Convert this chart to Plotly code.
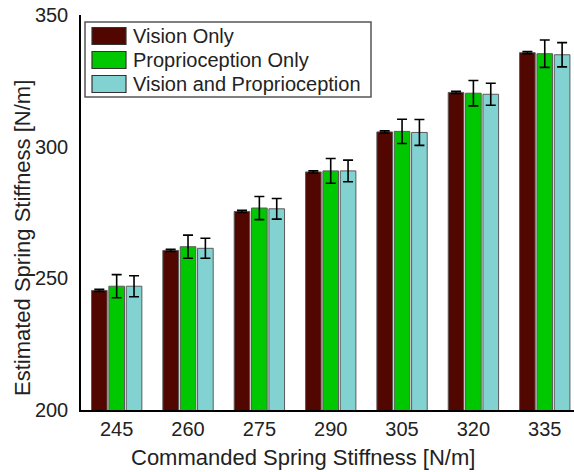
import plotly.graph_objects as go

# Commanded stiffness levels (x categories) and estimated stiffness per condition
commanded = ["245", "260", "275", "290", "305", "320", "335"]

vision_only = [245.4, 260.6, 275.4, 290.4, 305.6, 320.6, 335.7]
vision_only_err = [0.4, 0.4, 0.4, 0.4, 0.4, 0.4, 0.4]

proprio_only = [247.0, 262.0, 276.7, 290.8, 305.8, 320.3, 335.3]
proprio_only_err = [4.4, 4.4, 4.4, 4.7, 4.6, 4.8, 5.2]

vision_proprio = [247.0, 261.4, 276.4, 290.8, 305.4, 319.9, 334.9]
vision_proprio_err = [4.0, 3.8, 3.9, 4.1, 4.9, 4.2, 4.6]

series_names = ["Vision Only", "Proprioception Only", "Vision and Proprioception"]
series_colors = ["#520600", "#00c800", "#82d2d2"]

W, H = 574, 472
ML, MR, MT, MB = 81, 0, 15, 62
PW, PH = W - ML - MR, H - MT - MB

FONT = "Liberation Sans, Arial, sans-serif"
TXT = "#222222"

fig = go.Figure()
for name, vals, errs, col in zip(
    series_names,
    [vision_only, proprio_only, vision_proprio],
    [vision_only_err, proprio_only_err, vision_proprio_err],
    series_colors,
):
    fig.add_trace(go.Bar(
        x=commanded, y=vals, name=name,
        marker=dict(color=col, line=dict(color="#5a5a5a", width=1)),
        error_y=dict(type="data", array=errs, color="black", thickness=1.6, width=5),
        showlegend=False,
    ))


def px_x(p):
    return (p - ML) / PW


def px_y(p):
    return (H - MB - p) / PH


shapes = []
annotations = []

# Legend box with large colour swatches
shapes.append(dict(type="rect", xref="paper", yref="paper",
                   x0=px_x(85), x1=px_x(371), y0=px_y(97), y1=px_y(22),
                   line=dict(color="#555555", width=1.5), fillcolor="white", layer="above"))
row_centers = [36, 60, 84]
for name, col, cy in zip(series_names, series_colors, row_centers):
    shapes.append(dict(type="rect", xref="paper", yref="paper",
                       x0=px_x(92), x1=px_x(126), y0=px_y(cy + 8.5), y1=px_y(cy - 8.5),
                       line=dict(color="#333333", width=1.2), fillcolor=col, layer="above"))
    annotations.append(dict(text=name, xref="paper", yref="paper",
                            x=px_x(131), y=px_y(cy), xanchor="left", yanchor="middle",
                            showarrow=False, font=dict(family=FONT, size=20, color=TXT)))

# Axis titles
annotations.append(dict(text="Commanded Spring Stiffness [N/m]", xref="paper", yref="paper",
                        x=px_x(303), y=px_y(457), xanchor="center", yanchor="middle",
                        showarrow=False, font=dict(family=FONT, size=22, color=TXT)))
annotations.append(dict(text="Estimated Spring Stiffness [N/m]", xref="paper", yref="paper",
                        x=px_x(22), y=px_y(238), xanchor="center", yanchor="middle",
                        textangle=-90, showarrow=False,
                        font=dict(family=FONT, size=22, color=TXT)))

fig.update_layout(
    width=W, height=H,
    margin=dict(l=ML, r=MR, t=MT, b=MB, pad=0),
    paper_bgcolor="white", plot_bgcolor="white",
    barmode="group", bargap=0.27, bargroupgap=0.1,
    font=dict(family=FONT, color=TXT),
    shapes=shapes, annotations=annotations,
)
fig.update_xaxes(
    type="category", range=[-0.5, 6.41],
    showline=True, linecolor="black", linewidth=2,
    showgrid=False, zeroline=False, ticks="",
    tickfont=dict(family=FONT, size=20, color=TXT),
    ticklabelstandoff=0,
)
fig.update_yaxes(
    range=[200, 350], tickvals=[200, 250, 300, 350],
    showline=True, linecolor="black", linewidth=1.5,
    showgrid=False, zeroline=False, ticks="",
    tickfont=dict(family=FONT, size=20, color=TXT),
    ticklabelstandoff=7,
)

fig.write_html("out.html")
